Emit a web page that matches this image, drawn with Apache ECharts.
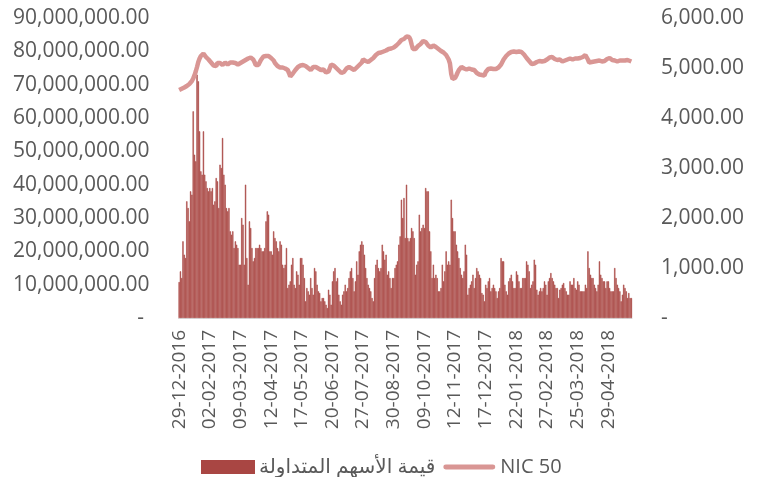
<!DOCTYPE html>
<html>
<head>
<meta charset="utf-8">
<script src="https://cdn.jsdelivr.net/npm/echarts@6/dist/echarts.min.js"></script>
<style>
  html, body { margin: 0; padding: 0; background: #fff; }
  #main { width: 769px; height: 477px; }
</style>
</head>
<body>
<div id="main"></div>
<script>
// tick labels, one every 24 trading sessions
const tickLabels = ['29-12-2016', '02-02-2017', '09-03-2017', '12-04-2017', '17-05-2017', '20-06-2017', '27-07-2017',
    '30-08-2017', '09-10-2017', '12-11-2017', '17-12-2017', '22-01-2018', '27-02-2018', '25-03-2018', '29-04-2018'];
const labelStep = 24;

// traded value, millions (one row per label interval)
const tradedValue = [
    10.8, 14, 12, 23, 19, 18, 35, 33, 29, 38, 37, 62, 49, 47, 73, 71, 56, 44, 43, 56, 43, 41, 39, 38,
    39, 38, 39, 34, 35, 42, 41, 33, 46, 45, 54, 43, 40, 33, 32, 33, 26, 25, 26, 21, 23, 22, 21, 16,
    16, 30, 28, 16, 40, 18, 10, 29, 27, 21, 17, 18, 21, 21, 21, 22, 21, 20, 20, 21, 29, 32, 31, 20,
    20, 19, 26, 24, 23, 21, 20, 23, 22, 16, 15, 16, 21, 9, 10, 11, 16, 18, 10, 9, 14, 13, 10, 18,
    18, 16, 12, 5, 9, 8, 7, 12, 9, 7, 15, 14, 10, 8, 7.5, 5, 6, 6, 5, 4, 3, 8.5, 7, 4,
    11, 14, 15, 11, 12, 7, 5, 4, 7, 8, 10, 8, 9, 12, 14, 15, 12, 8, 11, 17, 13, 20, 22, 23,
    22, 19, 15, 12, 10, 9, 8, 6, 5, 12, 16, 17.5, 15, 14, 15, 22, 20, 17.5, 19, 13, 14, 12, 9, 12,
    12, 15, 16, 17, 22, 24.5, 35.5, 30, 36, 24, 40, 24, 23, 24, 27, 26, 24, 13, 16, 17, 31, 26, 27, 28,
    27, 39, 38, 38, 26, 20, 12, 16, 12, 13, 12, 8, 8, 9, 16, 11, 14, 20, 16, 17, 16, 35.5, 30, 26,
    26, 22, 20, 18, 15, 13, 12, 14, 22, 19, 7, 9, 10, 11, 13, 9, 12, 15, 14, 13, 12, 7.5, 7, 5,
    10, 9, 11, 12, 8, 9, 10, 9, 8, 6, 8, 9, 18, 17, 17, 10, 8, 7, 11, 12, 13, 11, 9, 9,
    14, 13, 11, 9, 9, 12, 12, 12, 17, 16, 14, 9, 10, 11, 17.5, 16, 8.5, 7, 8, 9, 8, 9, 11, 10,
    7, 11, 12, 13.5, 12, 11, 10, 9, 9, 6, 8.5, 9, 10, 10.5, 9, 8, 7, 7, 11, 10, 10, 12, 9, 8.5,
    11, 10, 8, 8, 8, 8, 10, 9, 20, 15, 13, 12, 12, 10, 9, 8, 10, 17, 13, 12, 11, 11, 9, 11,
    11, 9, 8, 8, 8, 15, 12, 10, 9, 8, 5, 7, 10, 9, 8, 6, 7.5, 6, 6
];

// NIC 50 index
const nic50 = [
    4560, 4570, 4585, 4600, 4610, 4625, 4640, 4660, 4680, 4700, 4740, 4790, 4850, 4930, 5020, 5120, 5190, 5240, 5270, 5290, 5260, 5220, 5190, 5170,
    5150, 5110, 5080, 5050, 5030, 5040, 5100, 5120, 5100, 5070, 5060, 5090, 5110, 5090, 5070, 5090, 5110, 5120, 5110, 5120, 5100, 5080, 5070, 5090,
    5100, 5110, 5130, 5150, 5160, 5170, 5190, 5200, 5210, 5200, 5170, 5120, 5060, 5030, 5060, 5110, 5160, 5200, 5230, 5240, 5240, 5240, 5240, 5220,
    5200, 5180, 5150, 5100, 5070, 5040, 5020, 5010, 5010, 5010, 5000, 4990, 4980, 4960, 4900, 4830, 4860, 4890, 4920, 4960, 4990, 5020, 5040, 5050,
    5050, 5060, 5050, 5040, 5020, 5000, 4980, 4960, 4990, 5020, 5030, 5020, 5010, 4990, 4970, 4960, 4970, 4970, 4940, 4910, 4900, 4930, 5000, 5070,
    5070, 5050, 5020, 5000, 4970, 4950, 4920, 4900, 4900, 4920, 4950, 4990, 5020, 5020, 5000, 4990, 4970, 4960, 4980, 5010, 5030, 5060, 5090, 5110,
    5170, 5170, 5140, 5120, 5120, 5140, 5160, 5180, 5200, 5230, 5260, 5280, 5300, 5310, 5310, 5320, 5330, 5340, 5350, 5370, 5380, 5380, 5390, 5400,
    5410, 5430, 5450, 5470, 5500, 5530, 5560, 5570, 5580, 5610, 5630, 5640, 5620, 5570, 5470, 5380, 5350, 5380, 5420, 5440, 5450, 5480, 5520, 5540,
    5550, 5520, 5490, 5450, 5420, 5410, 5430, 5450, 5450, 5420, 5400, 5380, 5360, 5340, 5320, 5310, 5290, 5260, 5220, 5170, 5090, 4880, 4780, 4770,
    4800, 4850, 4910, 4960, 5000, 5020, 5020, 4990, 4960, 4970, 4990, 4990, 4980, 4970, 4960, 4960, 4930, 4900, 4880, 4870, 4880, 4860, 4830, 4850,
    4920, 4960, 4980, 4990, 4990, 4990, 4980, 4980, 4980, 4990, 5010, 5030, 5070, 5120, 5170, 5210, 5240, 5270, 5290, 5310, 5320, 5330, 5330, 5320,
    5320, 5330, 5330, 5330, 5320, 5300, 5270, 5240, 5200, 5170, 5140, 5100, 5080, 5070, 5090, 5110, 5120, 5130, 5140, 5140, 5130, 5130, 5140, 5140,
    5170, 5190, 5210, 5220, 5220, 5200, 5180, 5160, 5160, 5170, 5170, 5150, 5130, 5140, 5150, 5160, 5170, 5190, 5190, 5180, 5170, 5180, 5190, 5190,
    5190, 5190, 5200, 5210, 5220, 5240, 5260, 5240, 5170, 5110, 5110, 5120, 5130, 5130, 5130, 5140, 5140, 5150, 5140, 5130, 5130, 5140, 5150, 5180,
    5220, 5200, 5170, 5160, 5160, 5150, 5140, 5130, 5140, 5150, 5160, 5150, 5150, 5150, 5160, 5160, 5150, 5140, 5130
];

const barName = 'قيمة الأسهم المتداولة';
const lineName = 'NIC 50';

const font = '"Open Sans", "DejaVu Sans", sans-serif';
const textColor = '#595959';
const barColor = '#A94643';
const lineColor = '#D99694';
const fmt2 = v => v.toLocaleString('en-US', { minimumFractionDigits: 2, maximumFractionDigits: 2 });

const chart = echarts.init(document.getElementById('main'), null, { renderer: 'canvas' });
const categories = tradedValue.map((_, i) => String(i));

chart.setOption({
    animation: false,
    backgroundColor: '#fff',
    textStyle: { fontFamily: font },
    grid: { left: 178.5, right: 137, top: 18, bottom: 159, containLabel: false },
    legend: {
        left: 196, top: 452,
        itemWidth: 52, itemHeight: 12, itemGap: 8,
        symbolKeepAspect: true,
        textStyle: { fontSize: 20, color: textColor, fontFamily: font },
        data: [
            { name: barName, icon: 'rect' },
            { name: lineName, icon: 'path://M5,0 L101,0 A5,5 0 0 1 101,10 L5,10 A5,5 0 0 1 5,0 Z' }
        ]
    },
    xAxis: {
        type: 'category',
        data: categories,
        axisLine: { lineStyle: { color: '#d9d9d9', width: 1 } },
        axisTick: { show: false },
        axisLabel: {
            rotate: 90, interval: labelStep - 1, margin: 12,
            fontSize: 19, color: textColor, fontFamily: font,
            formatter: (v, i) => tickLabels[i / labelStep] || ''
        }
    },
    yAxis: [
        {
            type: 'value', min: 0, max: 90, interval: 10,
            splitLine: { show: false }, axisLine: { show: false }, axisTick: { show: false },
            axisLabel: {
                margin: 29, fontSize: 21, color: textColor, fontFamily: font,
                formatter: v => v === 0 ? '- ' : fmt2(v * 1e6)
            }
        },
        {
            type: 'value', min: 0, max: 6000, interval: 1000,
            splitLine: { show: false }, axisLine: { show: false }, axisTick: { show: false },
            axisLabel: {
                margin: 29, fontSize: 21, color: textColor, fontFamily: font,
                formatter: v => v === 0 ? '-' : fmt2(v)
            }
        }
    ],
    series: [
        {
            name: barName, type: 'bar', yAxisIndex: 0,
            barCategoryGap: '0%',
            itemStyle: { color: barColor, borderColor: barColor, borderWidth: 0.5 },
            data: tradedValue
        },
        {
            name: lineName, type: 'line', yAxisIndex: 1,
            symbol: 'none', showSymbol: false,
            lineStyle: { color: lineColor, width: 4.5 },
            itemStyle: { color: lineColor },
            data: nic50
        }
    ]
});
</script>
</body>
</html>
